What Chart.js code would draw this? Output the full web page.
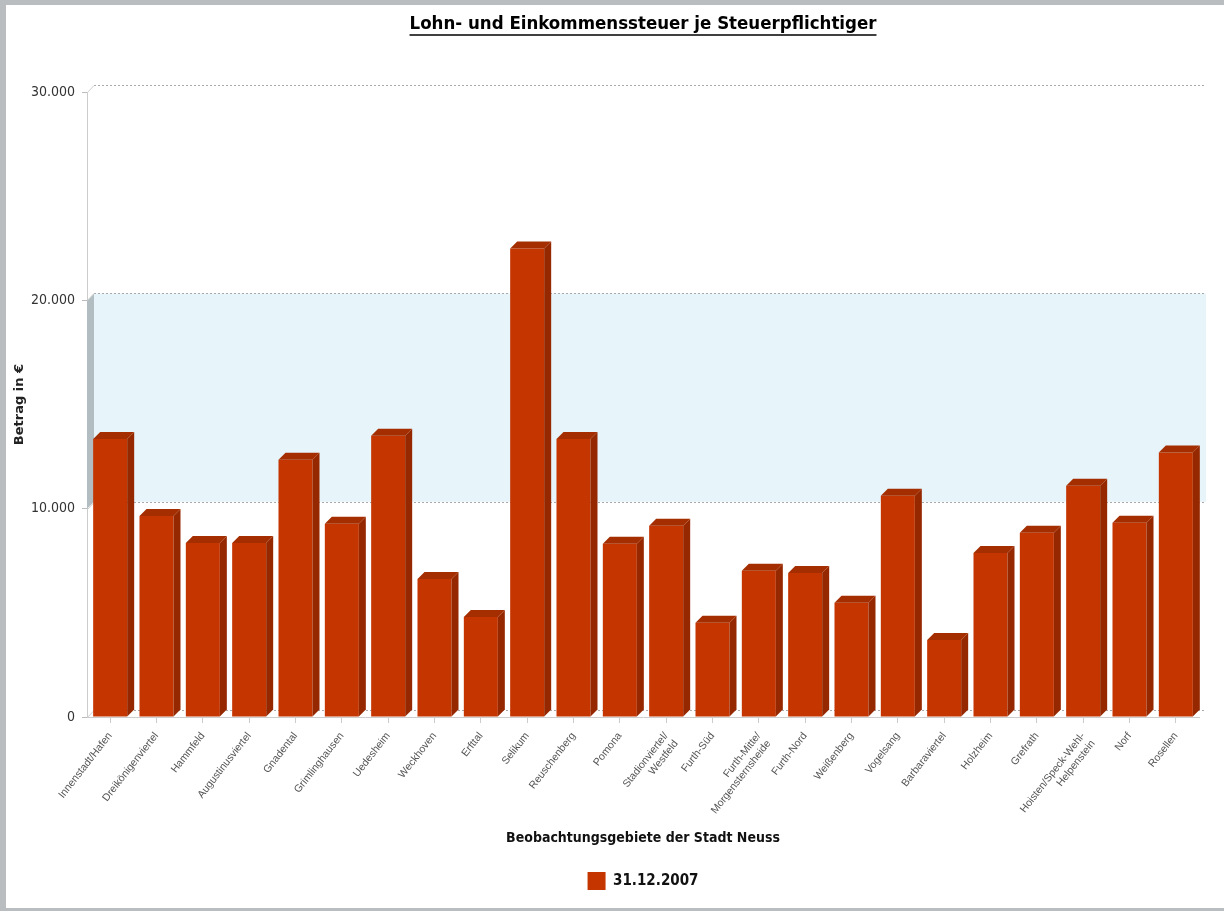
<!DOCTYPE html>
<html>
<head>
<meta charset="utf-8">
<title>Lohn- und Einkommenssteuer je Steuerpflichtiger</title>
<script src="https://cdn.jsdelivr.net/npm/chart.js@4.4.0/dist/chart.umd.min.js"></script>
<style>
  html, body { margin: 0; padding: 0; background: #b9bdc0; overflow: hidden; }
  #wrap { position: absolute; left: 6px; top: 5px; width: 1218px; height: 903px; background: #fff; overflow: hidden; }
  canvas { display: block; }
</style>
</head>
<body>
<div id="wrap"><canvas id="taxChart" width="1274" height="903"></canvas></div>
<script>
// Beobachtungsgebiete (x categories)
const areas = [
  'Innenstadt/Hafen', 'Dreikönigenviertel', 'Hammfeld', 'Augustinusviertel', 'Gnadental',
  'Grimlinghausen', 'Uedesheim', 'Weckhoven', 'Erfttal', 'Selikum', 'Reuschenberg', 'Pomona',
  ['Stadionviertel/', 'Westfeld'], 'Furth-Süd', ['Furth-Mitte/', 'Morgensternsheide'], 'Furth-Nord',
  'Weißenberg', 'Vogelsang', 'Barbaraviertel', 'Holzheim', 'Grefrath',
  ['Hoisten/Speck-Wehl-', 'Helpenstein'], 'Norf', 'Rosellen'
];
// Betrag in € je Steuerpflichtiger, Stand 31.12.2007
const amounts2007 = [
  13350, 9650, 8350, 8350, 12350, 9280, 13500, 6630, 4800, 22500, 13350, 8320,
  9180, 4520, 7020, 6920, 5480, 10620, 3700, 7880, 8850, 11100, 9330, 12700
];
const yTicks = [0, 10000, 20000, 30000];
const bandRange = [10000, 20000];   // light blue band on the back wall

const depth = 7;
const frontColor = '#c43500';
const sideColor = '#962800';
const topColor = '#a42e00';

function fmtDe(v) {
  return String(v).replace(/\B(?=(\d{3})+(?!\d))/g, '.');
}

// back wall, band, dotted grid and 3d faces of the bars
const wall3d = {
  id: 'wall3d',
  beforeDatasetsDraw(chart) {
    const {ctx, chartArea: a, scales: {y}} = chart;
    const yLo = y.getPixelForValue(bandRange[0]);
    const yHi = y.getPixelForValue(bandRange[1]);
    ctx.save();
    ctx.fillStyle = '#e7f5fa';
    ctx.fillRect(a.left + depth, yHi - depth, a.right - a.left, yLo - yHi);
    ctx.fillStyle = '#b2bdc2';
    ctx.beginPath();
    ctx.moveTo(a.left, yHi);
    ctx.lineTo(a.left + depth, yHi - depth);
    ctx.lineTo(a.left + depth, yLo - depth);
    ctx.lineTo(a.left, yLo);
    ctx.closePath();
    ctx.fill();

    ctx.strokeStyle = '#a9a9a9';
    ctx.lineWidth = 1;
    yTicks.forEach(v => {
      const py = Math.round(y.getPixelForValue(v) - depth) + 0.5;
      ctx.setLineDash([2, 2]);
      ctx.beginPath();
      ctx.moveTo(a.left + depth, py);
      ctx.lineTo(a.right + depth - 2, py);
      ctx.stroke();
      ctx.setLineDash([]);
      ctx.strokeStyle = '#cfcfcf';
      ctx.beginPath();
      ctx.moveTo(a.left + 0.5, py + depth);
      ctx.lineTo(a.left + depth, py);
      ctx.stroke();
      ctx.strokeStyle = '#a9a9a9';
    });
    ctx.restore();
  },
  afterDatasetsDraw(chart) {
    const {ctx} = chart;
    const meta = chart.getDatasetMeta(0);
    ctx.save();
    meta.data.forEach(bar => {
      const {x, y, width, base} = bar.getProps(['x', 'y', 'width', 'base'], true);
      const l = x - width / 2, r = x + width / 2;
      ctx.fillStyle = sideColor;
      ctx.beginPath();
      ctx.moveTo(r, y);
      ctx.lineTo(r + depth, y - depth);
      ctx.lineTo(r + depth, base - depth);
      ctx.lineTo(r, base);
      ctx.closePath();
      ctx.fill();
      ctx.fillStyle = topColor;
      ctx.beginPath();
      ctx.moveTo(l, y);
      ctx.lineTo(l + depth, y - depth);
      ctx.lineTo(r + depth, y - depth);
      ctx.lineTo(r, y);
      ctx.closePath();
      ctx.fill();
    });
    ctx.restore();
  },
  afterDraw(chart) {
    // underline the title
    const tb = chart.titleBlock;
    if (!tb) return;
    const {ctx} = chart;
    const f = Chart.helpers.toFont(tb.options.font);
    ctx.save();
    ctx.font = f.string;
    const w = ctx.measureText(tb.options.text).width;
    const cx = tb.left + tb.width / 2;
    const cy = tb.top + tb.options.padding.top + f.lineHeight / 2;
    ctx.strokeStyle = '#000';
    ctx.lineWidth = 1.5;
    ctx.beginPath();
    ctx.moveTo(cx - w / 2, cy + 11);
    ctx.lineTo(cx + w / 2, cy + 11);
    ctx.stroke();
    ctx.restore();
  }
};

const ctx = document.getElementById('taxChart').getContext('2d');
new Chart(ctx, {
  type: 'bar',
  data: {
    labels: areas,
    datasets: [{
      label: '31.12.2007',
      data: amounts2007,
      backgroundColor: frontColor,
      borderWidth: 0,
      barPercentage: 0.734,
      categoryPercentage: 1
    }]
  },
  options: {
    responsive: false,
    animation: false,
    layout: { padding: { left: 0, right: 0, top: 0, bottom: 8 } },
    scales: {
      x: {
        grid: { display: true, drawOnChartArea: false, drawTicks: true, tickLength: 6, color: '#cccccc', offset: false },
        border: { display: true, color: '#cccccc' },
        ticks: {
          autoSkip: false, maxRotation: 52, minRotation: 52, padding: 7,
          color: '#555', font: { family: '"Liberation Sans", Arial, sans-serif', size: 10.5 }
        },
        title: {
          display: true, text: 'Beobachtungsgebiete der Stadt Neuss', color: '#111',
          font: { family: '"DejaVu Sans Condensed", "DejaVu Sans", sans-serif', size: 14, weight: 'bold' },
          padding: { top: 0, bottom: 15 }
        },
        afterFit(scale) { scale.height = 145; }
      },
      y: {
        min: 0, max: 30000,
        grid: { display: true, drawOnChartArea: false, drawTicks: true, tickLength: 5, color: '#bbbbbb' },
        border: { display: true, color: '#cccccc' },
        ticks: {
          stepSize: 10000, padding: 7, color: '#333',
          font: { family: '"DejaVu Sans Condensed", "DejaVu Sans", sans-serif', size: 14 },
          callback: v => fmtDe(v)
        },
        title: {
          display: true, text: 'Betrag in €', color: '#222',
          font: { family: '"DejaVu Sans", sans-serif', size: 13, weight: 'bold' },
          padding: { top: 6, bottom: 0 }
        },
        afterFit(scale) { scale.width = 81; }
      },
      yRight: {
        type: 'linear', position: 'right', display: true,
        grid: { display: false }, border: { display: false }, ticks: { display: false },
        afterFit(scale) { scale.width = 81; }
      }
    },
    plugins: {
      title: {
        display: true,
        text: 'Lohn- und Einkommenssteuer je Steuerpflichtiger',
        color: '#000',
        font: { family: '"Liberation Sans Narrow", "DejaVu Sans Condensed", Arial, sans-serif', size: 18.5, weight: 'bold' },
        padding: { top: 8, bottom: 57 }
      },
      legend: {
        position: 'bottom',
        labels: {
          boxWidth: 18, boxHeight: 18, padding: 10, color: '#111',
          font: { family: '"DejaVu Sans Condensed", "DejaVu Sans", sans-serif', size: 15, weight: 'bold' }
        }
      },
      tooltip: { enabled: false }
    }
  },
  plugins: [wall3d]
});
</script>
</body>
</html>
